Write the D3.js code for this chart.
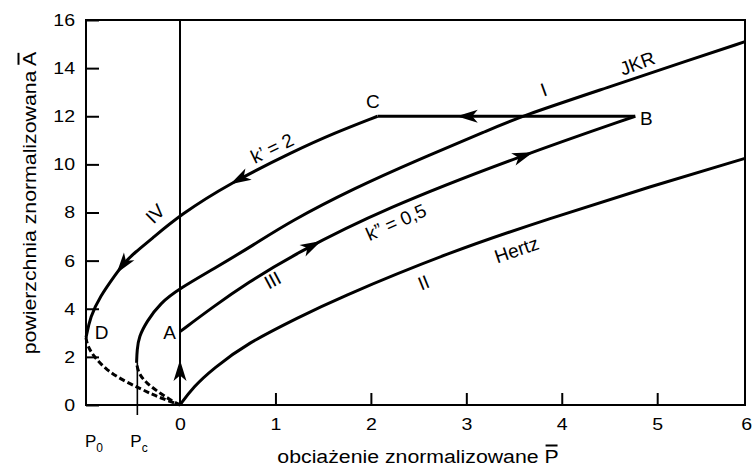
<!DOCTYPE html>
<html><head><meta charset="utf-8">
<script src="https://cdn.jsdelivr.net/npm/d3@7"></script>
<style>html,body{margin:0;padding:0;background:#fff;} svg{display:block;}</style>
</head><body>
<script>
// ---- data ----
const xTicks = [0, 1, 2, 3, 4, 5, 6];
const yTicks = [0, 2, 4, 6, 8, 10, 12, 14, 16];
const P0 = -0.985, Pc = -0.447;
const jkrUpper = [[-0.455,1.75],[-0.45,2.3],[-0.43,2.84],[-0.35,3.46],[-0.21,4.23],[0,4.85],[0.35,5.65],[0.77,6.65],[1.15,7.62],[1.82,9.0],[2.5,10.2],[3.25,11.45],[3.56,11.98],[4.5,13.22],[5.34,14.34],[5.92,15.1]];
const jkrLower = [[0,0],[-0.07,0.14],[-0.21,0.49],[-0.35,0.9],[-0.437,1.32],[-0.455,1.75]];
const hertz = [[0,0],[0.14,0.76],[0.35,1.52],[0.70,2.56],[1.26,3.67],[1.61,4.36],[2.83,6.37],[3.88,7.76],[4.92,9.07],[5.92,10.25]];
const curveIII = [[0,3.05],[0.35,4.09],[0.70,5.06],[1.2,6.27],[2.13,8.15],[3.6,10.4],[4.77,12]];
const lineBC = [[4.77,12],[2.07,12]];
const curveIV = [[2.07,12],[1.61,11.29],[1.2,10.56],[0.52,9.21],[0,7.9],[-0.31,6.86],[-0.47,6.35],[-0.59,5.89],[-0.67,5.45],[-0.84,4.5],[-0.94,3.67],[-0.985,2.8]];
const curveIVLower = [[-0.985,2.8],[-0.97,2.45],[-0.9,2.0],[-0.77,1.45],[-0.6,1.03],[-0.42,0.69],[-0.28,0.42],[-0.14,0.2],[0,0]];
const axisZero = [[0,0],[0,16]];
const arrowsIII = [[1.48,6.79],[3.70,10.53]];
const arrowsIV = [[0.52,9.21],[-0.66,5.47]];
const arrowsBC = [[2.9,12]];
const arrowsZero = [[0,1.87]];
const labels = [
  {t:"A", x:-0.11, y:3.03, r:0},
  {t:"D", x:-0.822, y:3.03, r:0},
  {t:"B", x:4.887, y:11.91, r:0},
  {t:"C", x:2.022, y:12.64, r:0},
  {t:"JKR", x:4.79, y:14.21, r:-20},
  {t:"I", x:3.81, y:13.11, r:-20},
  {t:"k\u2019 = 2", x:0.964, y:10.68, r:-26},
  {t:"IV", x:-0.262, y:7.96, r:-45},
  {t:"III", x:0.969, y:5.2, r:-28},
  {t:"k\u201D = 0,5", x:2.263, y:7.61, r:-24},
  {t:"II", x:2.551, y:5.09, r:-22},
  {t:"Hertz", x:3.525, y:6.46, r:-19}
];
const xTitle = "obciażenie znormalizowane P";
const yTitle = "powierzchnia znormalizowana A";

// ---- drawing ----
const W = 752, H = 466;
const FONT = "'Liberation Sans', Arial, Helvetica, sans-serif";
const x = d3.scaleLinear().domain([P0, 5.92]).range([86, 745]);
const y = d3.scaleLinear().domain([0, 16]).range([405, 20]);
const svg = d3.select("body").append("svg").attr("width", W).attr("height", H);
svg.append("rect").attr("width", W).attr("height", H).attr("fill", "#fff");

// axes
const gx = svg.append("g").attr("transform", `translate(0,${y(0)})`)
  .call(d3.axisBottom(x).tickValues(xTicks).tickSize(-12).tickPadding(13).tickFormat(d3.format("d")));
const gy = svg.append("g").attr("transform", `translate(${x(P0)},0)`)
  .call(d3.axisLeft(y).tickValues(yTicks).tickSize(-13).tickPadding(9.5).tickFormat(d3.format("d")));
[gx, gy].forEach(g => {
  g.select(".domain").remove();
  g.selectAll(".tick line").attr("stroke", "#000").attr("stroke-width", 2);
  g.selectAll(".tick text").attr("fill", "#000").attr("font-family", FONT).attr("font-size", 17)
    .attr("transform", "scale(1.15,1)");
});
gx.selectAll(".tick").filter(d => d === 0).select("line").remove();
// keep the last (cut) label "6" inside the window
gx.selectAll(".tick").filter(d => d === 6).select("text").attr("text-anchor", "end").attr("x", (W - 0.5 - x(6)) / 1.15);

// frame
svg.append("rect").attr("x", x(P0)).attr("y", y(16)).attr("width", x(5.92) - x(P0)).attr("height", y(0) - y(16))
  .attr("fill", "none").attr("stroke", "#000").attr("stroke-width", 2);

const line = d3.line().x(d => x(d[0])).y(d => y(d[1])).curve(d3.curveBasis);
function curve(data, opts = {}) {
  return svg.append("path").attr("d", line(data)).attr("fill", "none").attr("stroke", "#000")
    .attr("stroke-width", opts.w || 3).attr("stroke-linejoin", "round")
    .attr("stroke-dasharray", opts.dash || null);
}
function arrows(pathSel, tips) {
  const node = pathSel.node();
  const L = node.getTotalLength();
  tips.forEach(t => {
    const tx = x(t[0]), ty = y(t[1]);
    let best = 0, bd = Infinity;
    for (let s = 0; s <= L; s += 0.5) {
      const p = node.getPointAtLength(s);
      const d = (p.x - tx) ** 2 + (p.y - ty) ** 2;
      if (d < bd) { bd = d; best = s; }
    }
    const tip = node.getPointAtLength(best);
    const back = node.getPointAtLength(Math.max(0, best - 8));
    const ang = Math.atan2(tip.y - back.y, tip.x - back.x) * 180 / Math.PI;
    svg.append("path").attr("d", "M0,0 L-21,-6.5 L-15.5,0 L-21,6.5 Z").attr("fill", "#000")
      .attr("transform", `translate(${tip.x},${tip.y}) rotate(${ang})`);
  });
}

// x = 0 line
const zeroPath = curve(axisZero, {w: 2});
arrows(zeroPath, arrowsZero);
// Pc marker line
svg.append("line").attr("x1", x(Pc)).attr("x2", x(Pc)).attr("y1", y(jkrLower[jkrLower.length-1][1])).attr("y2", y(0) + 10)
  .attr("stroke", "#000").attr("stroke-width", 1.6);

curve(jkrUpper);
curve(jkrLower, {dash: "6,3"});
curve(hertz);
const pIII = curve(curveIII);
arrows(pIII, arrowsIII);
const pBC = curve(lineBC);
arrows(pBC, arrowsBC);
const pIV = curve(curveIV);
arrows(pIV, arrowsIV);
curve(curveIVLower, {dash: "6,3"});

// labels inside plot
labels.forEach(l => {
  svg.append("text").attr("transform", `translate(${x(l.x)},${y(l.y)}) rotate(${l.r})`)
    .attr("text-anchor", "middle").attr("dy", "0.36em")
    .attr("font-family", FONT).attr("font-size", 19).attr("fill", "#000").text(l.t);
});

// P0 and Pc labels
function subLabel(px, sub) {
  const t = svg.append("text").attr("x", px).attr("y", 447).attr("font-family", FONT).attr("font-size", 17).attr("fill", "#000");
  t.append("tspan").text("P");
  t.append("tspan").attr("font-size", 12).attr("dy", 5).text(sub);
}
subLabel(x(P0) - 1, "0");
subLabel(x(Pc) - 7, "c");

// axis titles with overline on last char
function title(tx, ty, rot, str) {
  const g = svg.append("g").attr("transform", `translate(${tx},${ty}) rotate(${rot}) scale(1.12,1)`);
  const t = g.append("text").attr("text-anchor", "middle").attr("font-family", FONT).attr("font-size", 19)
    .attr("fill", "#000").text(str);
  const e = t.node().getExtentOfChar(str.length - 1);
  g.append("line").attr("x1", e.x + 1).attr("x2", e.x + e.width - 1).attr("y1", -17.5).attr("y2", -17.5)
    .attr("stroke", "#000").attr("stroke-width", 2);
}
title(418, 463, 0, xTitle);
title(36, 203, -90, yTitle);
</script>
</body></html>
